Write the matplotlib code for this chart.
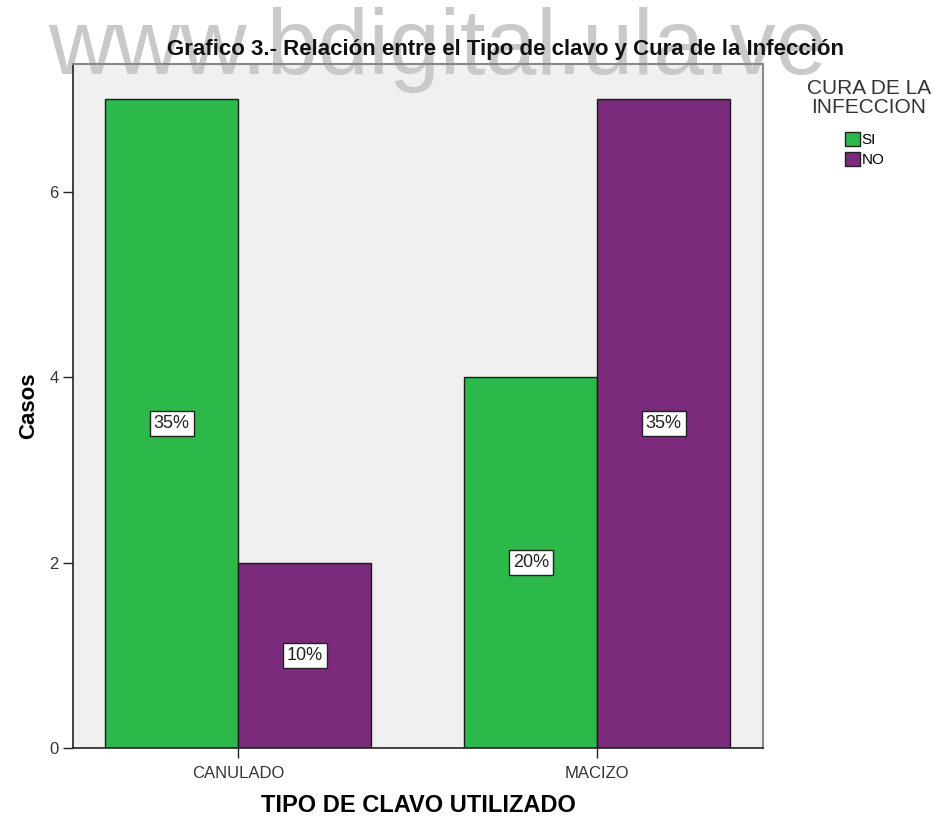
import matplotlib
matplotlib.use("Agg")
import matplotlib.pyplot as plt
import numpy as np
from matplotlib.patches import Patch

categories = ["CANULADO", "MACIZO"]
series_names = ["SI", "NO"]
si_values = [7, 4]
no_values = [2, 7]
si_labels = ["35%", "20%"]
no_labels = ["10%", "35%"]
y_ticks = [0, 2, 4, 6]

green = "#2db84a"
purple = "#7b2a7c"

plt.rcParams["font.family"] = ["Liberation Sans", "DejaVu Sans"]

W, H = 935, 821
fig = plt.figure(figsize=(W / 100, H / 100), dpi=100)
ax = fig.add_axes([73 / W, 1 - 748 / H, (763 - 73) / W, (748 - 64) / H])
ax.set_facecolor("#f0f0f0")

# site watermark behind the title, over the plot background
ax.text(438 / W, 1 - 74 / H, "www.bdigital.ula.ve", transform=fig.transFigure,
        fontsize=66, color="#c9c9c9", ha="center", va="baseline",
        zorder=1, clip_on=False)

x = np.arange(len(categories))
w = 0.37
b1 = ax.bar(x - w / 2, si_values, w, color=green, edgecolor="#1a1a1a", linewidth=1, zorder=2)
b2 = ax.bar(x + w / 2, no_values, w, color=purple, edgecolor="#1a1a1a", linewidth=1, zorder=2)

box = dict(boxstyle="square,pad=0.22", fc="white", ec="#222222", lw=1)
for bars, vals, labs in ((b1, si_values, si_labels), (b2, no_values, no_labels)):
    for rect, v, lab in zip(bars, vals, labs):
        ax.text(rect.get_x() + rect.get_width() / 2, v / 2, lab, ha="center", va="center",
                fontsize=13, color="#222222", bbox=box, zorder=3)

ax.set_xlim(-0.46, 1.462)
ax.set_ylim(0, 7.38)
ax.set_xticks(x)
ax.set_xticklabels(categories, fontsize=12, color="#333333")
ax.set_yticks(y_ticks)
ax.set_yticklabels([str(t) for t in y_ticks], fontsize=12, color="#333333")
ax.tick_params(length=7, width=1, color="#222222")
ax.tick_params(axis="x", pad=6)
for s in ("left", "bottom"):
    ax.spines[s].set_color("#222222")
    ax.spines[s].set_linewidth(1.2)
for s in ("top", "right"):
    ax.spines[s].set_color("#888888")
    ax.spines[s].set_linewidth(1.5)

ax.set_ylabel("Casos", fontsize=16, fontweight="bold", labelpad=7)
ax.set_xlabel("TIPO DE CLAVO UTILIZADO", fontsize=17, fontweight="bold", labelpad=9)
ax.text(506 / W, 1 - 55 / H,
        "Grafico 3.- Relación entre el Tipo de clavo y Cura de la Infección",
        transform=fig.transFigure, fontsize=16, fontweight="bold", color="#111111",
        ha="center", va="baseline", zorder=5, clip_on=False)

fig.text(869 / W, 1 - 98 / H, "CURA DE LA\nINFECCION", ha="center", va="center",
         fontsize=15, color="#333333", linespacing=0.95)
handles = [Patch(facecolor=green, edgecolor="#222222", label=series_names[0]),
           Patch(facecolor=purple, edgecolor="#222222", label=series_names[1])]
fig.legend(handles=handles, loc="upper left", bbox_to_anchor=(845 / W, 1 - 132 / H),
           frameon=False, fontsize=11, handlelength=0.95, handleheight=1.0,
           handletextpad=0.15, labelspacing=0.35, borderpad=0, borderaxespad=0)

fig.savefig("out.png", dpi=100)
